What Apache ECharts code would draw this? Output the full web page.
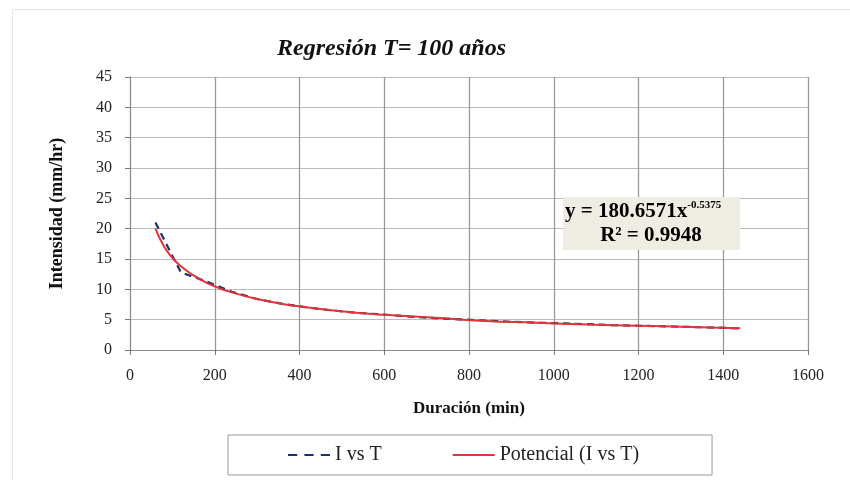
<!DOCTYPE html>
<html><head><meta charset="utf-8">
<script src="https://cdn.jsdelivr.net/npm/echarts@6/dist/echarts.min.js"></script>
<style>html,body{margin:0;padding:0;background:#fff}#c{width:850px;height:480px}</style>
</head><body><div id="c"></div>
<script>
// Observed data (duration min, intensity mm/hr)
const durations = [60,120,180,240,300,360,420,480,540,600,660,720,780,840,900,960,1020,1080,1140,1200,1260,1320,1380,1440];
const observed  = [21.0,12.8,11.3,9.6,8.4,7.6,7.0,6.5,6.1,5.85,5.5,5.25,5.05,4.85,4.65,4.5,4.4,4.25,4.1,4.0,3.9,3.8,3.7,3.55];
// Power trendline values
const trendX = [60,80,100,120,150,180,210,240,300,360,420,480,540,600,720,840,960,1080,1200,1320,1440];
const trendY = [20.0,17.1,15.2,13.8,12.3,11.1,10.2,9.5,8.4,7.6,7.0,6.5,6.1,5.8,5.3,4.8,4.5,4.2,4.0,3.8,3.6];
const xTicks = [0,200,400,600,800,1000,1200,1400,1600];
const yTicks = [0,5,10,15,20,25,30,35,40,45];
const serif = '"Liberation Serif","DejaVu Serif",serif';

const chart = echarts.init(document.getElementById('c'));
chart.setOption({
  animation:false,
  backgroundColor:'#fff',
  title:{text:'Regresión T= 100 años', left:272, top:32,
    textStyle:{fontFamily:serif,fontStyle:'italic',fontWeight:'bold',fontSize:24,color:'#111'}},
  grid:{left:130,right:42,top:77,bottom:130},
  xAxis:{type:'value',min:xTicks[0],max:xTicks[xTicks.length-1],interval:xTicks[1]-xTicks[0],
    name:'Duración (min)',nameLocation:'middle',nameGap:50,
    nameTextStyle:{fontFamily:serif,fontWeight:'bold',fontSize:17,color:'#111'},
    axisLine:{show:true,lineStyle:{color:'#888',width:1}},
    axisTick:{show:true,inside:false,length:5,lineStyle:{color:'#777'}},
    axisLabel:{fontFamily:serif,fontSize:16,color:'#222',margin:18,formatter:v=>String(v)},
    splitLine:{show:true,lineStyle:{color:'#999',width:1.3}}},
  yAxis:{type:'value',min:yTicks[0],max:yTicks[yTicks.length-1],interval:yTicks[1]-yTicks[0],
    name:'Intensidad (mm/hr)',nameLocation:'middle',nameGap:64,
    nameTextStyle:{fontFamily:serif,fontWeight:'bold',fontSize:18,color:'#111'},
    axisLine:{show:true,lineStyle:{color:'#888',width:1}},
    axisTick:{show:true,inside:false,length:5,lineStyle:{color:'#777'}},
    axisLabel:{fontFamily:serif,fontSize:16,color:'#222',margin:18,formatter:v=>String(v)},
    splitLine:{show:true,lineStyle:{color:'#bbb',width:1}}},
  legend:{left:228,top:435,
    itemWidth:42,itemHeight:2.5,itemGap:71,
    padding:[10,73,10,60],
    borderColor:'#999',borderWidth:1,
    textStyle:{fontFamily:serif,fontSize:20,color:'#222'},
    data:[
      {name:'I vs T',icon:'path://M0,0H9V2H0Z M16,0H25V2H16Z M32,0H41V2H32Z'},
      {name:'Potencial (I vs T)',icon:'path://M0,0H42V2H0Z'}
    ]},
  graphic:[
    {type:'rect',left:10,top:7,shape:{width:845,height:480},style:{fill:'none',stroke:'#e6e6e6',lineWidth:1},silent:true},
    {type:'rect',left:563,top:197,shape:{width:177,height:53},style:{fill:'#efece4'},z:10},
    {type:'text',left:565,top:200,z:11,style:{
      text:'{a|y = 180.6571x}{s|-0.5375}\n{b|R² = 0.9948}',
      rich:{
        a:{fontFamily:serif,fontWeight:'bold',fontSize:21,color:'#111',lineHeight:24},
        s:{fontFamily:serif,fontWeight:'bold',fontSize:11,color:'#111',verticalAlign:'top',lineHeight:14},
        b:{fontFamily:serif,fontWeight:'bold',fontSize:21,color:'#111',lineHeight:24,align:'center',width:172}
      }
    }}
  ],
  series:[
    {name:'I vs T',type:'line',data:durations.map((d,i)=>[d,observed[i]]),
      symbol:'none',smooth:false,z:3,
      lineStyle:{color:'#1f2f6b',width:2.2,type:[7,5]},itemStyle:{color:'#1f2f6b'}},
    {name:'Potencial (I vs T)',type:'line',data:trendX.map((d,i)=>[d,trendY[i]]),
      symbol:'none',smooth:true,z:4,
      lineStyle:{color:'#e0333a',width:2},itemStyle:{color:'#e0333a'}}
  ]
});
</script></body></html>
